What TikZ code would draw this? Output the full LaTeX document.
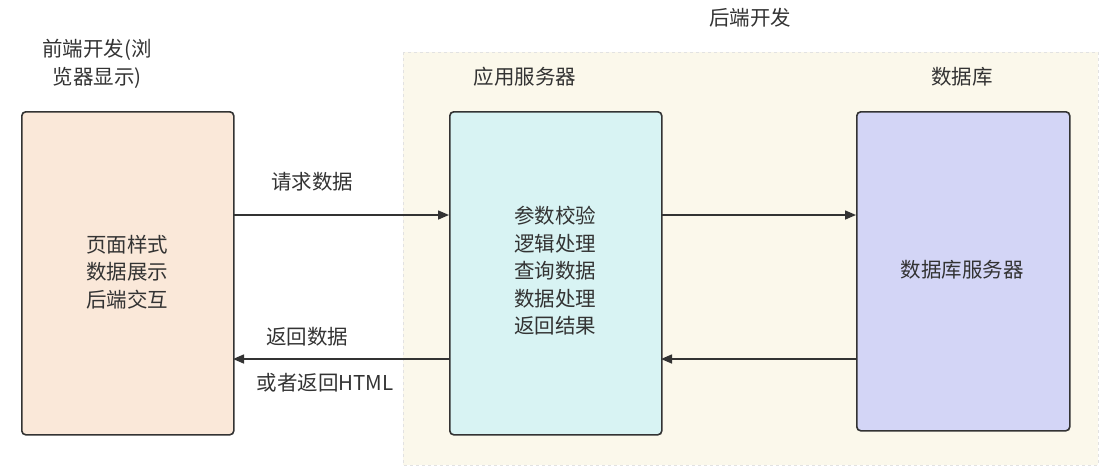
\documentclass[tikz,border=0pt]{standalone}
\usepackage{fontspec}
\setmainfont{Noto Sans CJK SC}
\usetikzlibrary{arrows.meta}
\definecolor{txt}{HTML}{333333}
\definecolor{frontfill}{HTML}{FAE8D9}
\definecolor{appfill}{HTML}{D8F3F3}
\definecolor{dbfill}{HTML}{D3D5F6}
\definecolor{groupfill}{HTML}{FBF8EB}
\definecolor{groupline}{HTML}{E2E2E2}
\begin{document}
\begin{tikzpicture}[x=1pt,y=-1pt,
  every node/.style={text=txt,font=\fontsize{20.5}{27.5}\selectfont},
  boxnode/.style={draw=txt,line width=1.6pt,rounded corners=4pt,anchor=north west,inner sep=0pt},
  lbl/.style={align=center},
  conn/.style={draw=txt,line width=1.5pt,-{Triangle[length=11pt,width=9pt]}}]
\useasboundingbox (0,0) rectangle (1116,475);
% group
\path[fill=groupfill,draw=groupline,dashed,line width=0.8pt] (403,52) rectangle (1098,465);
\node[lbl] (gtitle) at (750,18) {后端开发};
\node[lbl] (ftitle) at (97,64) {前端开发(浏\\览器显示)};
\node[lbl] (atitle) at (525,77) {应用服务器};
\node[lbl] (dtitle) at (962,77) {数据库};
% boxes
\node[boxnode,fill=frontfill,minimum width=212pt,minimum height=323pt] (front) at (21,111) {};
\node[boxnode,fill=appfill,minimum width=212pt,minimum height=323pt] (app) at (449,111) {};
\node[boxnode,fill=dbfill,minimum width=213pt,minimum height=319pt] (db) at (856,111) {};
\node[lbl] (ftext) at (127,272) {页面样式\\数据展示\\后端交互};
\node[lbl] (atext) at (555,271) {参数校验\\逻辑处理\\查询数据\\数据处理\\返回结果};
\node[lbl] (dtext) at (962,270) {数据库服务器};
% connectors
\coordinate (r1) at (233,215);
\coordinate (r2) at (449,215);
\coordinate (q1) at (661,215);
\coordinate (q2) at (856,215);
\coordinate (b1) at (856,359);
\coordinate (b2) at (661,359);
\coordinate (s1) at (449,359);
\coordinate (s2) at (233,359);
\draw[conn] (r1) -- (r2);
\draw[conn] (q1) -- (q2);
\draw[conn] (b1) -- (b2);
\draw[conn] (s1) -- (s2);
\node[lbl] (req) at (312,182) {请求数据};
\node[lbl] (ret) at (307,337) {返回数据};
\node[lbl] (reth) at (325,383) {或者返回HTML};
\end{tikzpicture}
\end{document}
